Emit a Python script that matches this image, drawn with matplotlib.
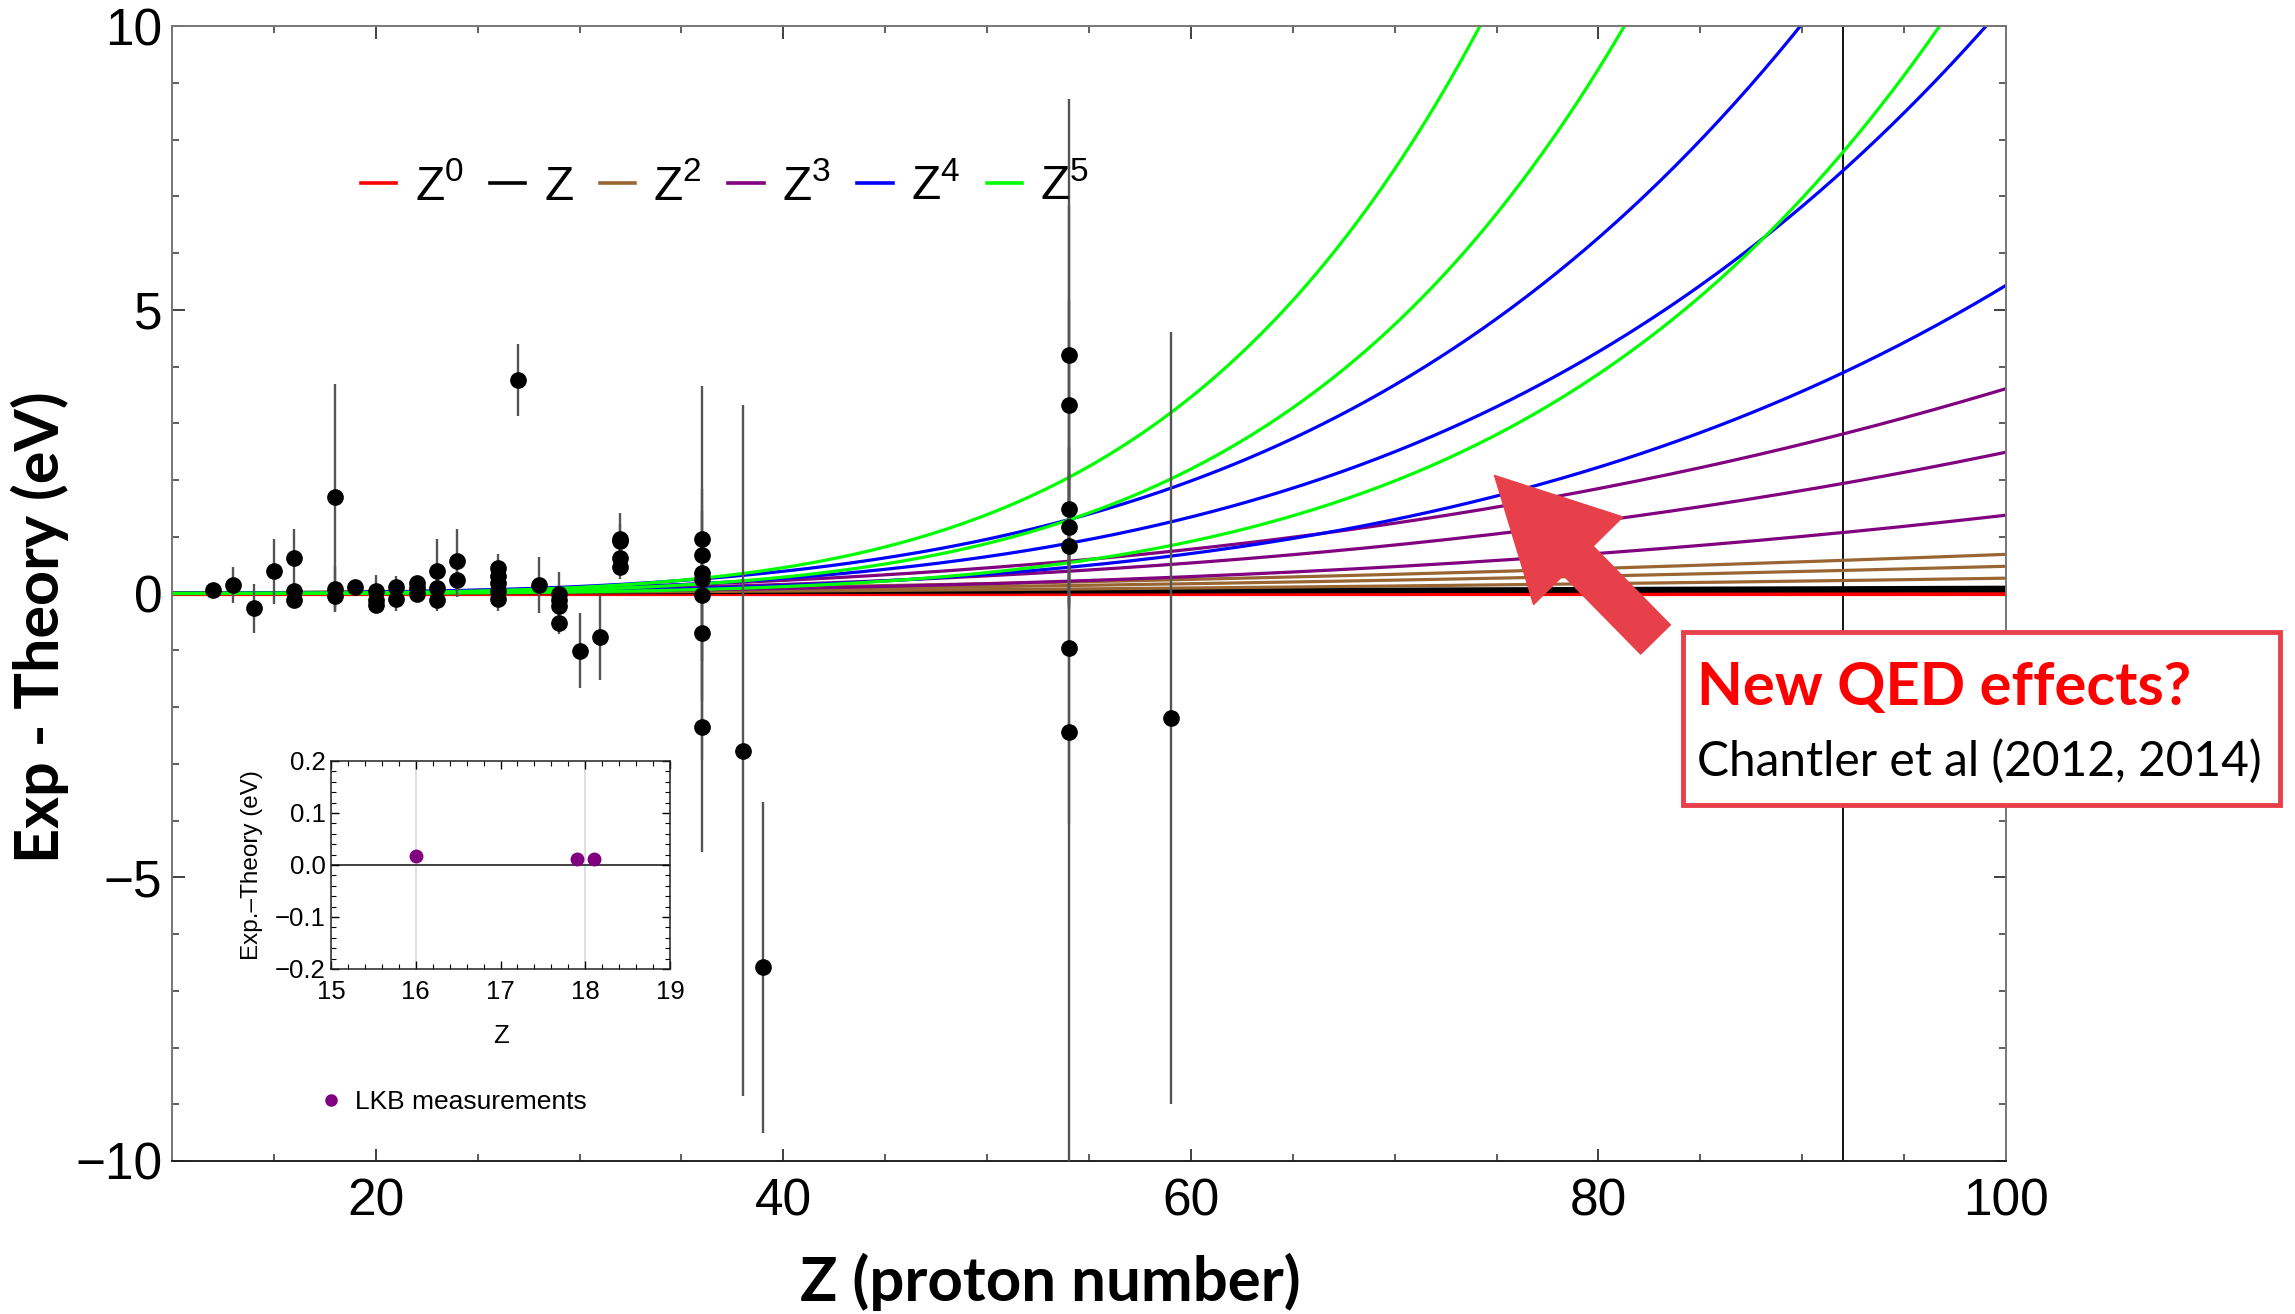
import numpy as np
import matplotlib
matplotlib.use("Agg")
import matplotlib.pyplot as plt
from matplotlib.patches import Rectangle
from matplotlib.ticker import MultipleLocator
from matplotlib.lines import Line2D
from matplotlib import font_manager

# ---------------- data ----------------
# experimental points (Z, Exp - Theory [eV], uncertainty [eV])
exp_z = [12, 13, 14, 15,
         16, 16, 16,
         18, 18, 18,
         19,
         20, 20, 20,
         21, 21,
         22, 22, 22,
         23, 23, 23,
         24, 24,
         26, 26, 26, 26, 26,
         27, 28,
         29, 29, 29, 29,
         30, 31,
         32, 32, 32, 32,
         36, 36, 36, 36, 36, 36, 36,
         38, 39,
         54, 54, 54, 54, 54, 54, 54,
         59]
exp_val = [0.07, 0.15, -0.26, 0.39,
           0.63, 0.04, -0.11,
           1.70, 0.08, -0.05,
           0.11,
           0.05, -0.11, -0.21,
           0.11, -0.10,
           0.19, 0.10, 0.00,
           0.40, 0.10, -0.11,
           0.58, 0.24,
           0.45, 0.30, 0.19, 0.04, -0.10,
           3.76, 0.15,
           0.00, -0.11, -0.22, -0.52,
           -1.01, -0.77,
           0.96, 0.92, 0.62, 0.46,
           0.96, 0.67, 0.36, 0.25, -0.02, -0.69, -2.35,
           -2.77, -6.59,
           4.21, 3.32, 1.49, 1.17, 0.83, -0.96, -2.44,
           -2.20]
exp_err = [0.05, 0.31, 0.43, 0.57,
           0.50, 0.15, 0.10,
           2.00, 0.40, 0.20,
           0.10,
           0.27, 0.10, 0.10,
           0.20, 0.20,
           0.10, 0.10, 0.10,
           0.56, 0.20, 0.20,
           0.55, 0.30,
           0.25, 0.20, 0.20, 0.20, 0.20,
           0.63, 0.50,
           0.38, 0.20, 0.20, 0.20,
           0.66, 0.75,
           0.45, 0.30, 0.20, 0.20,
           0.50, 0.40, 3.30, 0.40, 1.87, 0.50, 2.20,
           6.09, 2.91,
           4.50, 3.50, 1.10, 1.40, 0.60, 3.10, 7.60,
           6.80]

# model curves: c * (Z/100)^n, three amplitudes per power
coef_z0 = [0.0, 0.005, 0.01]
coef_z1 = [0.05, 0.08, 0.11]
coef_z2 = [0.27, 0.48, 0.69]
coef_z3 = [1.38, 2.49, 3.61]
coef_z4 = [5.43, 10.4, 15.3]
coef_z5 = [11.8, 28.2, 44.5]
curve_powers = [0, 1, 2, 3, 4, 5]
curve_labels = [r"$\mathregular{Z^0}$", r"$\mathregular{Z}$", r"$\mathregular{Z^2}$",
                r"$\mathregular{Z^3}$", r"$\mathregular{Z^4}$", r"$\mathregular{Z^5}$"]
curve_colors = ["#ff0000", "#000000", "#996633", "#800080", "#0000ff", "#00ff00"]
uranium_z = 92

# inset: LKB measurements
lkb_z = [16.0, 17.9, 18.1]
lkb_val = [0.0173, 0.0122, 0.0110]
lkb_err = [0.003, 0.003, 0.003]

# ---------------- figure ----------------
W, H = 2295, 1314
available = {f.name for f in font_manager.fontManager.ttflist}
legend_font = "Liberation Sans Narrow" if "Liberation Sans Narrow" in available else "Liberation Sans"

plt.rcParams["font.family"] = ["Liberation Sans", "DejaVu Sans"]
plt.rcParams["mathtext.fontset"] = "custom"
plt.rcParams["mathtext.rm"] = legend_font
fig = plt.figure(figsize=(W / 100, H / 100), dpi=100)

ax = fig.add_axes([172 / W, 1 - 1161 / H, (2006 - 172) / W, (1161 - 26) / H])
ax.set_xlim(10, 100)
ax.set_ylim(-10, 10)

zgrid = np.linspace(10, 100, 500)
all_coefs = [coef_z0, coef_z1, coef_z2, coef_z3, coef_z4, coef_z5]
handles = []
for n, coefs, col, lab in zip(curve_powers, all_coefs, curve_colors, curve_labels):
    for c in coefs:
        ax.plot(zgrid, c * (zgrid / 100.0) ** n, color=col, lw=2.3, zorder=2,
                solid_capstyle="butt")
    handles.append(Line2D([], [], color=col, lw=2.6, label=lab))

ax.axvline(uranium_z, color="black", lw=1.3, zorder=1)

ax.errorbar(exp_z, exp_val, yerr=exp_err, fmt="none", ecolor="#555555",
            elinewidth=1.7, zorder=3)
ax.plot(exp_z, exp_val, "o", color="black", ms=11, zorder=4)

# ticks
ax.xaxis.set_minor_locator(MultipleLocator(5))
ax.yaxis.set_major_locator(MultipleLocator(5))
ax.yaxis.set_minor_locator(MultipleLocator(1))
ax.set_xticks([20, 40, 60, 80, 100])
ax.tick_params(which="both", direction="in", top=True, right=True,
               labelsize=37, color="#333333")
ax.tick_params(which="major", length=9, width=1.3)
ax.tick_params(which="minor", length=5, width=1.1)
ax.tick_params(axis="x", pad=12)
ax.tick_params(axis="y", pad=7)
for s in ["left", "right", "top"]:
    ax.spines[s].set_color("#777777")
    ax.spines[s].set_linewidth(1.4)
ax.spines["bottom"].set_color("#222222")
ax.spines["bottom"].set_linewidth(1.4)

ax.set_xlabel("Z (proton number)", fontsize=44.5, fontweight="bold",
              family=["Lato", "DejaVu Sans"])
ax.set_ylabel("Exp - Theory (eV)", fontsize=44, fontweight="bold",
              family=["Lato", "DejaVu Sans"])
ax.xaxis.set_label_coords(0.479, -0.081)
ax.yaxis.set_label_coords(-0.056, 0.47)

leg = ax.legend(handles=handles, ncol=6, frameon=False,
                prop={"family": legend_font, "size": 34.5},
                loc="center left", bbox_to_anchor=(0.103, 0.858),
                handlelength=0.74, handletextpad=0.38, columnspacing=0.55,
                borderaxespad=0, borderpad=0)

# arrow + annotation box
ax.annotate("", xy=(74.9, 2.08), xytext=(82.8, -0.81), xycoords="data",
            arrowprops=dict(arrowstyle="simple,head_length=0.86,head_width=0.9,tail_width=0.3",
                            mutation_scale=100, color="#e8404a", shrinkA=0, shrinkB=0),
            zorder=6)

box = Rectangle((1683 / W, 1 - 805 / H), (2280 - 1683) / W, (805 - 632) / H,
                transform=fig.transFigure, fill=True, facecolor="white",
                edgecolor="#e8404a", lw=3.5, zorder=10)
fig.add_artist(box)
fig.text(1697 / W, 1 - 705 / H, "New QED effects?", color="#ff0000",
         fontsize=43, fontweight="bold", family=["Lato", "DejaVu Sans"],
         ha="left", va="baseline", zorder=11)
fig.text(1697 / W, 1 - 776 / H, "Chantler et al (2012, 2014)", color="black",
         fontsize=34.5, family=["Lato", "DejaVu Sans"],
         ha="left", va="baseline", zorder=11)

# ---------------- inset ----------------
axi = fig.add_axes([331 / W, 1 - 969 / H, (670 - 331) / W, (969 - 761) / H])
axi.set_xlim(15, 19)
axi.set_ylim(-0.2, 0.2)
for gz in [16, 18]:
    axi.axvline(gz, color="#d9d9d9", lw=1.2, zorder=0)
axi.axhline(0, color="#333333", lw=1.3, zorder=1)
axi.errorbar(lkb_z, lkb_val, yerr=lkb_err, fmt="o", color="#800080", ms=9,
             ecolor="#800080", elinewidth=1, zorder=3)
axi.xaxis.set_major_locator(MultipleLocator(1))
axi.xaxis.set_minor_locator(MultipleLocator(0.2))
axi.yaxis.set_major_locator(MultipleLocator(0.1))
axi.yaxis.set_minor_locator(MultipleLocator(0.02))
axi.tick_params(which="both", direction="in", top=True, right=True, labelsize=18.5)
axi.tick_params(which="major", length=6, width=1)
axi.tick_params(which="minor", length=3.5, width=0.8)
axi.tick_params(axis="x", pad=8)
axi.tick_params(axis="y", pad=4)
for s in axi.spines.values():
    s.set_linewidth(1.1)
    s.set_color("#222222")
axi.set_xlabel("Z", fontsize=18.5, labelpad=14)
axi.set_ylabel("Exp.\u2013Theory (eV)", fontsize=17.5, labelpad=8)
lkb_handle = Line2D([], [], ls="none", marker="o", color="#800080", ms=8,
                    label="LKB measurements")
axi.legend(handles=[lkb_handle], loc="center left", bbox_to_anchor=(-0.03, -0.64),
           frameon=False, fontsize=19, handlelength=0.8, handletextpad=0.5,
           borderpad=0, borderaxespad=0)

fig.savefig("out.png", dpi=100)
